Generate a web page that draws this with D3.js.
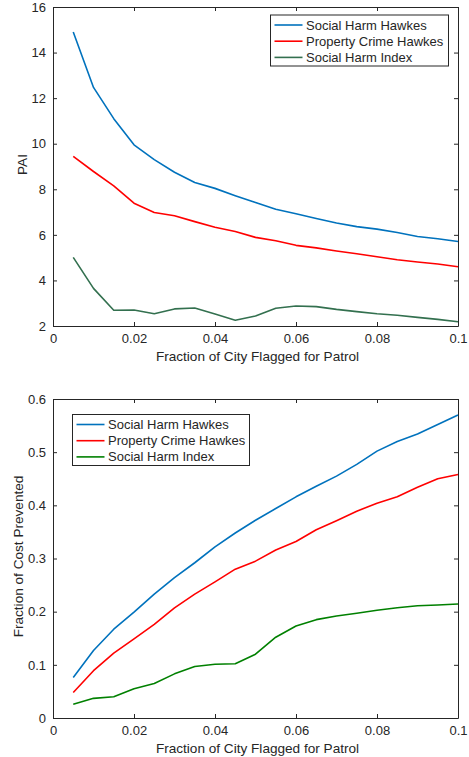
<!DOCTYPE html>
<html><head><meta charset="utf-8">
<script src="https://cdn.jsdelivr.net/npm/d3@7"></script>
<style>
body{margin:0;background:#fff;}
svg text{font-family:"Liberation Sans",Arial,sans-serif;fill:#262626;}
</style></head>
<body><svg id="c" width="469" height="757"></svg>
<script>
const fractions = [0.005,0.01,0.015,0.02,0.025,0.03,0.035,0.04,0.045,0.05,0.055,0.06,0.065,0.07,0.075,0.08,0.085,0.09,0.095,0.1];

const paiSocialHawkes   = [14.9,12.47,11.1,9.95,9.3,8.75,8.3,8.04,7.72,7.42,7.12,6.93,6.72,6.52,6.36,6.25,6.1,5.93,5.83,5.71];
const paiPropertyHawkes = [9.44,8.78,8.15,7.39,6.98,6.84,6.58,6.33,6.15,5.89,5.74,5.54,5.43,5.29,5.17,5.04,4.91,4.81,4.72,4.6];
const paiSocialIndex    = [5.01,3.65,2.69,2.7,2.54,2.75,2.79,2.53,2.25,2.44,2.78,2.88,2.85,2.73,2.63,2.54,2.47,2.38,2.29,2.19];

const costSocialHawkes   = [0.076,0.127,0.167,0.199,0.233,0.264,0.292,0.322,0.348,0.372,0.394,0.416,0.436,0.455,0.477,0.502,0.52,0.534,0.552,0.57];
const costPropertyHawkes = [0.048,0.089,0.122,0.149,0.176,0.207,0.233,0.256,0.28,0.295,0.316,0.332,0.354,0.371,0.389,0.404,0.416,0.434,0.45,0.458];
const costSocialIndex    = [0.026,0.037,0.04,0.055,0.065,0.083,0.097,0.101,0.102,0.12,0.152,0.173,0.185,0.192,0.197,0.2026,0.2075,0.211,0.2125,0.2144];

const seriesNames = ["Social Harm Hawkes","Property Crime Hawkes","Social Harm Index"];
const xTicks = [0,0.02,0.04,0.06,0.08,0.1];
const xTickLabels = ["0","0.02","0.04","0.06","0.08","0.1"];
const paiTicks = [2,4,6,8,10,12,14,16];
const costTicks = [0,0.1,0.2,0.3,0.4,0.5,0.6];
const costTickLabels = ["0","0.1","0.2","0.3","0.4","0.5","0.6"];

const svg = d3.select("#c");
const AX = "#262626";

function panel(cfg){
  const g = svg.append("g");
  const x = d3.scaleLinear().domain([0,0.1]).range([cfg.left,cfg.right]);
  const y = d3.scaleLinear().domain(cfg.ydom).range([cfg.bottom,cfg.top]);
  const tl = 4;
  const xb = g.append("g").attr("transform",`translate(0,${cfg.bottom})`)
    .call(d3.axisBottom(x).tickValues(xTicks).tickFormat((d,i)=>xTickLabels[i]).tickSizeInner(-tl).tickSizeOuter(0).tickPadding(9));
  const xt = g.append("g").attr("transform",`translate(0,${cfg.top})`)
    .call(d3.axisTop(x).tickValues(xTicks).tickFormat("").tickSizeInner(-tl).tickSizeOuter(0));
  const yl = g.append("g").attr("transform",`translate(${cfg.left},0)`)
    .call(d3.axisLeft(y).tickValues(cfg.yticks).tickFormat((d,i)=>cfg.ylabels[i]).tickSizeInner(-tl).tickSizeOuter(0).tickPadding(7));
  const yr = g.append("g").attr("transform",`translate(${cfg.right},0)`)
    .call(d3.axisRight(y).tickValues(cfg.yticks).tickFormat("").tickSizeInner(-tl).tickSizeOuter(0));
  [xb,xt,yl,yr].forEach(a=>{
    a.selectAll("path").attr("stroke",AX).attr("stroke-width",1);
    a.selectAll("line").attr("stroke",AX).attr("stroke-width",1);
    a.selectAll("text").attr("font-size",13).style("fill",AX).attr("font-family","Liberation Sans, Arial, sans-serif");
  });
  xb.selectAll("text").attr("dy","0.71em").attr("y",8);
  const line = d3.line().x((d,i)=>x(fractions[i])).y(d=>y(d));
  cfg.series.forEach((s,k)=>{
    g.append("path").datum(s).attr("d",line).attr("fill","none")
      .attr("stroke",cfg.colors[k]).attr("stroke-width",1.6).attr("stroke-linejoin","round");
  });
  g.append("text").attr("x",(cfg.left+cfg.right)/2+2).attr("y",cfg.bottom+35)
    .attr("text-anchor","middle").attr("font-size",13.6).text("Fraction of City Flagged for Patrol");
  g.append("text").attr("transform",`translate(${cfg.ylabX},${(cfg.top+cfg.bottom)/2-2}) rotate(-90)`)
    .attr("text-anchor","middle").attr("font-size",13.6).attr("dy","0.35em").text(cfg.ylabel);
  const L = cfg.legend;
  g.append("rect").attr("x",L.x).attr("y",L.y).attr("width",L.w).attr("height",L.h)
    .attr("fill","#fff").attr("stroke",AX).attr("stroke-width",1);
  seriesNames.forEach((n,k)=>{
    const cy = L.y + 10 + k*16.2;
    g.append("line").attr("x1",L.x+4).attr("x2",L.x+32).attr("y1",cy).attr("y2",cy)
      .attr("stroke",cfg.colors[k]).attr("stroke-width",1.6);
    g.append("text").attr("x",L.x+35.5).attr("y",cy).attr("dy","0.35em").attr("font-size",13).text(n);
  });
}

panel({left:53,right:458,top:7,bottom:326,ydom:[2,16],yticks:paiTicks,ylabels:paiTicks.map(String),
  series:[paiSocialHawkes,paiPropertyHawkes,paiSocialIndex],colors:["#0072BD","#FF0000","#33704f"],
  ylabel:"PAI",ylabX:22,legend:{x:270.5,y:15,w:178,h:51}});

panel({left:53,right:458,top:399,bottom:718,ydom:[0,0.6],yticks:costTicks,ylabels:costTickLabels,
  series:[costSocialHawkes,costPropertyHawkes,costSocialIndex],colors:["#0072BD","#FF0000","#008000"],
  ylabel:"Fraction of Cost Prevented",ylabX:18,legend:{x:72.5,y:414.5,w:177,h:51}});
</script></body></html>
